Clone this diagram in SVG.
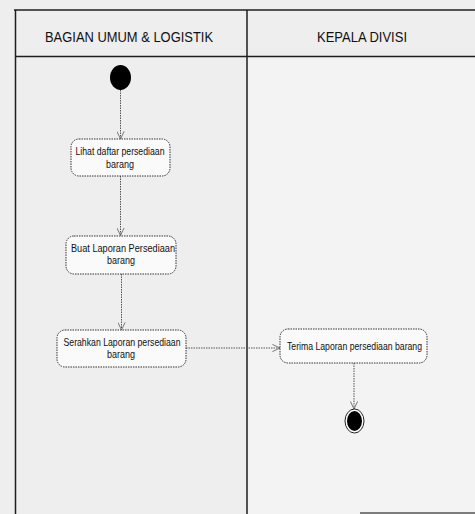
<svg xmlns="http://www.w3.org/2000/svg" width="475" height="514" viewBox="0 0 475 514">
  <defs>
    <style>
      .frame { fill: none; stroke: #1e1e1e; stroke-width: 1.5; }
      .hdr { font-family: "Liberation Sans", Arial, sans-serif; font-size: 14px; fill: #111; }
      .act { fill: #fafafa; stroke: #333; stroke-width: 1; stroke-dasharray: 1.5 1; }
      .lbl { font-family: "Liberation Sans", Arial, sans-serif; font-size: 11.5px; fill: #111; text-anchor: middle; }
      .flow { fill: none; stroke: #555; stroke-width: 1; stroke-dasharray: 1.5 1; }
    </style>
    <marker id="open" viewBox="0 0 10 10" refX="9.5" refY="5" markerWidth="8" markerHeight="8" orient="auto" markerUnits="userSpaceOnUse">
      <path d="M0,0.5 L9.5,5 L0,9.5" fill="none" stroke="#666" stroke-width="1.1"/>
    </marker>
  </defs>

  <!-- paper -->
  <rect x="0" y="0" width="475" height="514" fill="#eeeeee"/>
  <rect x="247" y="57" width="228" height="457" fill="#f3f3f3"/>

  <!-- swimlane frame -->
  <g id="lanes">
    <line class="frame" x1="14" y1="10" x2="475" y2="10"/>
    <line class="frame" x1="15.5" y1="10" x2="15.5" y2="514"/>
    <line class="frame" x1="247" y1="10" x2="247" y2="514"/>
    <line class="frame" x1="15" y1="56.5" x2="475" y2="56.5"/>
    <line x1="360" y1="513" x2="475" y2="513" stroke="#555" stroke-width="1.5"/>
    <text class="hdr" x="45" y="42" textLength="168" lengthAdjust="spacingAndGlyphs">BAGIAN UMUM &amp; LOGISTIK</text>
    <text class="hdr" x="317" y="42" textLength="90" lengthAdjust="spacingAndGlyphs">KEPALA DIVISI</text>
  </g>

  <!-- connectors -->
  <g id="connectors">
    <line class="flow" x1="120.5" y1="90" x2="120.5" y2="139" marker-end="url(#open)"/>
    <line class="flow" x1="120.5" y1="176" x2="120.5" y2="235.5" marker-end="url(#open)"/>
    <line class="flow" x1="121.5" y1="274" x2="121.5" y2="330" marker-end="url(#open)"/>
    <line class="flow" x1="186" y1="348" x2="280" y2="348" marker-end="url(#open)"/>
    <line class="flow" x1="354" y1="363" x2="354" y2="409" marker-end="url(#open)"/>
  </g>

  <!-- start -->
  <g id="start">
    <ellipse cx="120.5" cy="77.5" rx="10.5" ry="12.5" fill="#000"/>
  </g>

  <g id="lihat">
    <rect class="act" x="71" y="139" width="99" height="37" rx="8"/>
    <text class="lbl" x="120" y="155" textLength="89" lengthAdjust="spacingAndGlyphs">Lihat daftar persediaan</text>
    <text class="lbl" x="120" y="168" textLength="28" lengthAdjust="spacingAndGlyphs">barang</text>
  </g>

  <g id="buat">
    <rect class="act" x="66" y="236" width="110" height="38" rx="8"/>
    <text class="lbl" x="123" y="252" textLength="104" lengthAdjust="spacingAndGlyphs">Buat Laporan Persediaan</text>
    <text class="lbl" x="121" y="264" textLength="28" lengthAdjust="spacingAndGlyphs">barang</text>
  </g>

  <g id="serahkan">
    <rect class="act" x="57" y="330" width="129" height="37" rx="8"/>
    <text class="lbl" x="122" y="346" textLength="117" lengthAdjust="spacingAndGlyphs">Serahkan Laporan persediaan</text>
    <text class="lbl" x="121" y="358" textLength="28" lengthAdjust="spacingAndGlyphs">barang</text>
  </g>

  <g id="terima">
    <rect class="act" x="280" y="329" width="147" height="34" rx="8"/>
    <text class="lbl" x="354.5" y="350" textLength="135" lengthAdjust="spacingAndGlyphs">Terima Laporan persediaan barang</text>
  </g>

  <!-- end -->
  <g id="end">
    <ellipse cx="354.5" cy="421" rx="9.5" ry="12" fill="#fff" stroke="#222" stroke-width="1"/>
    <ellipse cx="354.5" cy="421" rx="7.5" ry="10" fill="#000"/>
  </g>
</svg>
